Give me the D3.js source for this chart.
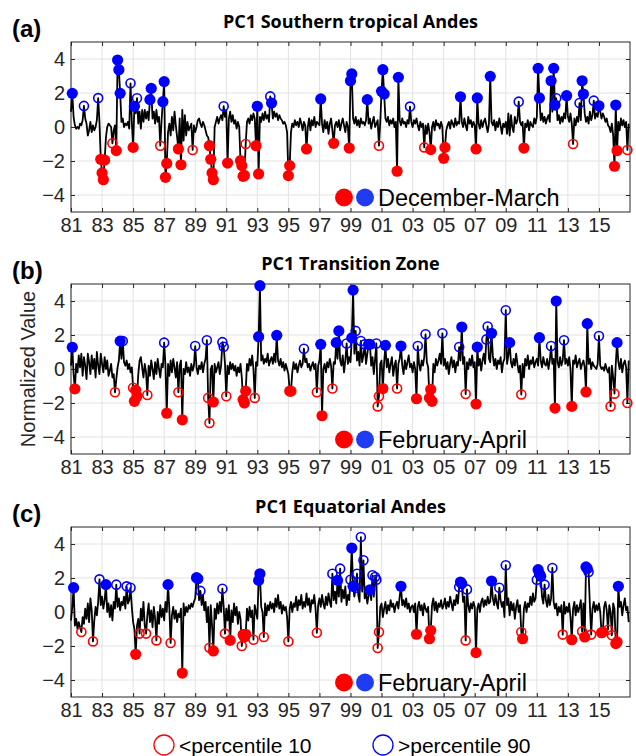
<!DOCTYPE html>
<html>
<head>
<meta charset="utf-8">
<script src="https://cdn.jsdelivr.net/npm/d3@7"></script>
<style>
  body { margin: 0; background: #fff; }
  svg { display: block; }
</style>
</head>
<body>
<svg id="chart" width="636" height="756"></svg>
<script>
// ---- data (monthly, Jan 1981 .. Dec 2016) ----
const firstYear = 1981;
const lastYear = 2017;
const yearTicks = [1981, 1983, 1985, 1987, 1989, 1991, 1993, 1995, 1997, 1999, 2001, 2003, 2005, 2007, 2009, 2011, 2013, 2015];
const yearLabels = ['81', '83', '85', '87', '89', '91', '93', '95', '97', '99', '01', '03', '05', '07', '09', '11', '13', '15'];
const valueTicks = [-4, -2, 0, 2, 4];

const panelTags = ['(a)', '(b)', '(c)'];
const panelTitles = ['PC1 Southern tropical Andes', 'PC1 Transition Zone', 'PC1 Equatorial Andes'];
const seasonNames = ['December-March', 'February-April', 'February-April'];
const seasonMonths = [[12, 1, 2, 3], [2, 3, 4], [2, 3, 4]];
const legendLabels = ['<percentile 10', '>percentile 90'];

const pcSouth = [
  0.9, 1.98, 0.6, 0.1, -0.1, 0.0, -0.1, 0.2, 0.1, 0.4, 1.24, 0.5,
  0.2, -0.5, -0.2, 0.3, -0.3, 0.1, -0.2, 0.0, 0.4, 1.7, 0.3, -1.9,
  -2.7, -3.1, -1.95, -0.6, 0.0, 0.2, 0.1, 0.0, -0.96, -0.2, 0.1, -1.39,
  3.94, 3.37, 1.98, 0.3, 0.5, 0.0, 0.2, 0.1, 0.3, -0.1, 2.57, 0.3,
  -1.2, 1.22, 0.8, 1.69, 0.2, 0.9, -0.1, 1.0, 0.3, 1.0, 0.5, 0.9,
  0.4, 1.61, 2.27, 0.5, 0.9, 0.2, 1.0, 0.3, 0.6, -1.1, 0.4, 1.49,
  2.67, -2.96, -2.14, -0.3, 0.2, -0.5, 0.6, -0.2, 0.9, 0.1, -0.6, -1.29,
  0.5, -2.22, 1.0, -0.8, 0.7, -0.5, 0.3, -0.2, 0.0, 0.2, -1.35, 0.1,
  -0.3, 0.0, 0.4, 0.5, 0.2, 0.0, 0.3, 0.1, -0.2, -0.5, -0.6, -1.1,
  -1.9, -2.7, -3.1, 0.0, 0.3, 0.6, 0.2, 0.5, 0.7, 0.4, 1.22, 0.6,
  1.0, -2.12, 0.5, 0.9, 0.3, 0.7, 0.2, 0.4, -0.1, 0.3, 0.0, -1.98,
  -2.27, -2.9, -2.85, -1.0, 0.3, 0.5, 0.2, 0.7, 0.4, 0.8, 0.5, -1.1,
  1.22, -2.76, 0.6, 0.3, 0.8, 0.4, 0.9, 0.5, 0.7, 0.3, 1.8, 1.41,
  0.5, 0.9, 0.6, 0.8, 0.4, 0.7, 0.5, 0.4, 0.2, 0.3, 0.1, -0.3,
  -2.86, -2.27, -0.3, 0.2, 0.0, 0.4, 0.1, 0.3, 0.0, 0.5, 0.2, -0.2,
  0.3, 0.1, -1.29, 0.0, 0.5, -0.2, 0.4, 0.1, 0.6, 0.0, 0.3, 0.2,
  0.1, 1.65, 0.2, -0.3, 0.4, -0.1, 0.3, -0.4, 0.2, 0.5, -0.2, -0.96,
  0.1, 0.3, 0.0, 0.4, -0.2, 0.2, 0.5, 0.1, -0.3, 0.3, 0.0, -1.24,
  2.72, 3.12, 0.5, 0.2, 0.6, 0.1, 0.4, 0.0, 0.5, 0.2, 0.3, 0.1,
  0.4, 1.61, 0.2, 0.5, -0.1, 0.3, 0.6, 0.0, 0.2, 0.4, -1.1, 0.3,
  2.1, 3.37, 1.94, 0.5, 0.3, 0.6, 0.1, 0.4, 0.2, 0.5, 0.0, 0.3,
  -2.6, 2.92, 0.4, 0.1, 0.5, 0.2, 0.3, 0.0, 0.4, 0.2, 1.2, 0.3,
  0.0, 0.4, 0.2, 0.5, 0.1, -0.2, 0.3, 0.0, 0.2, -1.2, 0.1, -0.4,
  0.2, -0.3, -1.33, 0.0, 0.3, -0.2, 0.4, 0.1, 0.2, -0.1, 0.3, 0.0,
  -1.84, -1.2, -0.2, 0.1, 0.3, -0.1, 0.4, 0.2, 0.0, 0.5, 0.1, 0.3,
  0.2, 1.78, 0.3, 0.0, 0.5, 0.1, -0.2, 0.6, 0.2, 0.4, 0.0, 0.3,
  0.1, -1.29, 1.71, 0.2, -0.1, 0.4, 0.0, 0.3, 0.5, 0.1, -0.3, 0.2,
  2.98, 0.3, 0.1, 0.4, -0.2, 0.3, 0.0, 0.5, 0.1, -0.4, 0.2, 0.0,
  0.3, -0.4, 0.8, -0.5, 0.7, 0.0, -0.3, 0.6, 0.2, 0.4, 1.49, 0.3,
  0.1, 0.3, -1.24, 0.2, 0.0, 0.4, -0.2, 0.3, 0.1, 0.0, 0.5, 0.2,
  0.6, 3.45, 1.71, 0.4, 0.8, 0.3, 0.6, 0.2, 0.5, 0.7, 0.3, 2.72,
  0.9, 3.45, 1.29, 1.69, 0.4, 0.7, 0.2, 0.6, 0.3, 0.8, 0.5, 1.84,
  0.6, 0.3, 0.8, 0.2, -1.0, 0.5, 0.1, 0.6, 0.3, 1.41, 0.4, 2.72,
  1.94, 0.8, 0.3, 0.6, 0.2, 0.9, 0.4, 0.7, 1.55, 0.5, 0.8, 0.6,
  1.25, 0.9, 0.5, 0.8, 0.6, 0.3, 0.5, 0.1, 0.0, -0.3, 0.2, -0.5,
  -2.31, 1.29, -1.39, 0.3, -0.2, 0.5, 0.1, 0.4, 0.0, 0.3, -1.35, 0.2
];
const pcTransition = [
  0.2, 1.28, -0.3, -1.17, 0.3, -0.2, 0.8, 0.1, 0.9, -0.4, 0.7, 0.2,
  -0.6, 0.9, 0.4, -0.3, 0.8, 0.0, 0.6, -0.5, 1.0, 0.2, -0.3, 0.9,
  0.3, -0.2, 0.7, 0.0, 0.5, -0.4, -0.1, 0.3, -0.5, -0.3, -1.37, -0.6,
  0.1, 0.5, 1.64, 0.6, 1.64, 0.4, 0.2, 0.5, 0.0, 0.3, -0.2, 0.1,
  -1.1, -1.9, -1.25, -1.6, -0.3, 0.5, 0.7, 0.1, -0.5, 0.3, -0.2, -1.53,
  0.2, -0.4, 0.5, 0.0, -0.6, 0.4, -0.3, 0.6, 0.0, -0.5, 0.3, 0.1,
  1.55, 0.2, -2.6, 0.3, -0.4, 0.5, -0.2, 0.6, 0.1, -0.5, 0.4, -1.37,
  0.2, 0.5, -2.99, 0.0, -0.3, 0.4, -0.2, 0.1, -0.4, 0.3, -0.1, 0.2,
  1.35, 0.1, -0.3, 0.2, 0.0, 0.4, -0.2, 0.3, 0.6, 1.69, -1.7, -3.18,
  0.0, 0.2, -1.94, 0.3, -0.2, 0.1, 0.4, -0.3, 0.2, 1.58, 1.31, 0.3,
  -1.6, 0.2, -0.3, 0.4, 0.0, 0.3, -0.1, 0.2, -0.4, 0.1, -0.2, 0.3,
  -0.5, -1.8, -2.0, -1.3, 0.3, -0.1, 0.6, 0.2, 0.8, 0.0, -1.7, 0.4,
  0.2, 1.9, 4.9, 0.5, 0.8, 0.3, 0.6, 0.4, 0.9, 0.2, 0.5, 0.7,
  0.3, 0.9, 0.4, 1.98, 0.5, 0.2, 0.6, 0.1, 0.4, -0.1, 0.3, 0.0,
  -0.3, -1.3, -1.3, -0.2, 0.4, 0.0, 0.3, -0.2, 0.2, 0.5, 0.1, 0.3,
  1.19, 0.4, 0.6, 0.1, 0.3, -0.1, 0.2, 0.4, 0.0, 0.3, -1.37, 0.2,
  0.5, 1.45, -2.75, 0.0, 0.3, -0.2, 0.4, 0.1, 0.6, 0.2, -1.15, 0.4,
  0.3, 1.55, 0.6, 2.24, 0.5, 0.2, 0.8, -0.2, 0.5, 1.5, 0.3, 0.7,
  0.4, 1.83, 4.64, 0.9, 2.24, 0.5, 1.0, 0.2, 1.65, 0.4, 0.8, 1.45,
  0.3, 0.9, 1.45, 1.45, 0.2, 0.7, -0.3, 0.6, 1.5, -2.2, -1.6, 0.3,
  0.5, -1.15, 0.4, 1.39, 0.1, 0.6, -0.2, 0.3, 0.7, -0.4, 0.2, 0.5,
  -1.15, 0.3, 0.6, 1.35, 0.2, -0.3, 0.5, 0.0, 0.4, 0.8, 0.1, 0.3,
  -0.2, 0.4, 0.0, -1.75, 1.35, 0.3, -0.1, 0.5, 0.2, 0.7, 2.04, 0.4,
  0.1, -1.7, -1.2, -1.9, 0.3, -0.2, 0.6, 0.2, 0.5, 0.9, 0.3, 2.1,
  0.2, 0.6, 0.0, 0.4, -0.3, 0.3, 0.7, 0.1, 0.5, -0.2, 0.4, 0.2,
  1.29, 0.5, 2.47, 0.3, 0.7, -1.47, 0.4, 0.0, 0.6, 0.2, 0.8, 0.1,
  0.4, -2.06, 1.29, 0.2, 0.6, -0.1, 0.5, 0.9, 0.3, 1.74, 2.5, 0.6,
  0.4, 2.1, 0.8, 0.2, 0.6, 0.0, 0.5, 0.3, 0.7, -0.2, 0.4, 0.6,
  3.46, 0.3, 0.8, 1.55, 0.4, 0.1, 0.6, 0.2, 0.9, 0.3, -0.2, 0.2,
  -1.5, 0.3, -0.5, 0.6, 0.2, 0.8, 0.0, 0.5, 0.3, 0.7, 0.1, 0.4,
  0.6, 0.2, 1.84, 0.5, 0.1, 0.7, 0.3, 0.2, 0.6, 0.0, 0.5, 1.35,
  0.3, 0.6, -2.3, 4.0, 0.4, 0.1, 0.7, 0.2, 0.5, 1.69, 0.3, 0.6,
  0.2, 0.7, 0.0, -2.2, 0.5, 0.3, 0.8, 0.1, 0.4, 0.6, 0.0, 0.3,
  0.5, 0.1, -1.35, 2.67, 0.3, 0.6, 0.0, 0.4, 0.2, 0.1, 0.0, 0.3,
  1.94, 0.2, 0.0, 0.1, -0.1, 0.3, 0.0, -0.2, 0.1, -2.2, 0.2, -0.5,
  -1.45, 0.3, 1.55, 0.4, 0.0, 0.6, -0.2, 0.3, 0.5, 0.1, -2.0, 0.5
];
const pcEquatorial = [
  -0.5, 0.3, 1.43, -0.8, -0.4, -1.0, -0.6, -0.9, -1.18, -0.3, -0.7, 0.2,
  -0.4, 0.5, -0.6, 0.8, 0.1, -1.73, -0.5, 0.3, -0.2, 0.6, 1.92, 0.4,
  0.9, 0.2, 0.7, 1.61, 0.0, 0.5, -0.3, 0.4, -0.5, 0.6, 0.2, 1.61,
  0.3, 0.8, 0.1, 0.6, 0.4, 0.9, 0.2, 1.51, 0.5, 0.7, 1.43, 0.3,
  -0.6, -1.0, -2.49, -0.8, -0.4, -1.27, 0.2, -0.5, 0.6, -0.8, -1.27, -0.2,
  0.5, -0.6, 0.1, -0.9, 0.3, -0.4, -1.67, 0.0, -0.7, 0.4, -0.3, 0.2,
  -0.5, 0.6, 0.0, 1.61, 0.2, -1.82, -0.2, 0.3, -0.4, 0.1, -0.6, -0.1,
  -0.3, 0.2, -3.59, 0.5, -0.2, 0.3, 0.0, 0.4, 0.2, 0.5, 0.3, 0.6,
  0.8, 2.02, 1.96, 0.7, 1.24, 0.4, 1.0, 0.1, 0.6, -0.6, 0.3, -2.1,
  0.4, -0.8, -2.29, 0.2, -0.4, 0.5, -0.1, 0.6, 0.0, 1.37, 0.3, -1.27,
  0.2, -0.5, 0.4, -1.67, 0.1, -0.6, 0.5, -0.2, 0.3, -0.7, 0.0, -0.4,
  -2.0, -1.33, -1.47, -1.31, 0.2, -0.5, 0.3, -0.3, 0.1, -1.63, 0.4, 0.0,
  -0.4, 1.86, 2.25, 0.3, 0.0, -1.47, 0.5, -0.2, 0.4, 0.1, 0.6, 0.2,
  0.5, 0.0, 0.8, 0.3, 1.0, 0.2, 0.6, -0.1, 0.4, 0.1, 0.3, -0.3,
  -1.73, 0.2, 0.6, 0.0, 0.5, 0.3, 0.9, 0.1, 0.7, 0.4, 1.0, 0.2,
  0.6, 0.3, 1.1, 0.4, 0.8, 0.0, 0.7, 0.5, 1.0, 0.2, -1.22, 0.4,
  0.8, 0.3, 1.0, 0.5, 0.2, 0.9, 0.4, 1.1, 0.6, 0.3, 2.25, 0.7,
  1.2, 0.5, 1.86, 0.9, 2.55, 0.6, 1.3, 0.8, 1.5, 0.4, 1.0, 0.7,
  1.9, 3.76, 1.51, 0.9, 1.43, 2.25, 1.0, 0.6, 4.41, 1.2, 3.04, 0.8,
  1.1, 0.5, 1.0, 1.31, 0.7, 2.16, 0.9, 2.06, 1.9, -2.12, -1.18, 0.3,
  0.5, -0.3, 0.2, 0.6, -0.1, 0.4, 0.1, 0.7, 0.3, 0.5, 0.0, 0.4,
  0.6, 0.2, 0.9, 1.51, 0.4, 0.7, 0.3, 0.8, 0.2, 0.5, 0.0, 0.3,
  0.4, 0.0, 0.5, -1.31, 0.3, 0.6, 0.1, 0.4, -0.2, 0.5, 0.2, 0.0,
  0.3, -1.57, -1.08, 0.4, 0.8, 0.1, 0.6, 0.0, 0.5, 0.3, 0.7, 0.2,
  0.4, 0.8, 0.2, 0.6, 0.3, 0.9, 0.5, 0.1, 0.7, 0.4, 1.0, 0.5,
  1.47, 1.76, 1.67, 0.6, 0.9, -1.67, 1.33, 0.4, 0.0, 0.5, 0.2, 0.6,
  0.3, -2.39, 0.2, 0.5, 0.0, 0.6, 0.8, 0.3, 0.7, 0.4, 0.9, 0.5,
  0.6, 1.82, 0.8, 0.4, 1.0, 0.5, 0.2, 1.43, 0.7, 0.3, 0.6, -0.3,
  2.75, 0.4, 0.8, -0.2, 0.6, 0.1, 0.5, -0.4, 0.3, 0.7, 0.0, 0.4,
  -1.18, -1.57, 0.2, 0.6, 0.0, 0.5, 0.3, 0.9, 0.4, 1.1, 0.6, 0.8,
  1.9, 2.49, 2.25, 2.1, 0.9, 0.5, 1.61, 0.7, 0.3, 1.0, 0.4, 0.8,
  2.59, 0.6, 0.2, 0.5, -0.2, 0.3, 0.0, 0.4, -1.33, 0.6, -0.1, 0.3,
  0.0, 0.5, -0.3, -1.63, 0.2, 0.6, -0.2, 0.4, 0.0, 0.3, 0.7, -1.14,
  0.5, -1.47, 2.65, 2.55, 2.35, 0.4, -1.33, 0.2, 0.6, 0.0, 0.4, 0.1,
  0.5, 0.0, -1.22, -1.18, 0.3, 0.6, 0.1, -1.04, 0.4, 0.0, -1.37, 0.5,
  0.2, -1.86, -1.76, 1.51, 0.3, 0.6, -0.2, 0.4, 0.8, 0.1, 0.3, -0.6
];

// months (index into the series) flagged as below p10 / above p90
const extremesSouth = [1, 10, 21, 23, 24, 25, 26, 32, 35, 36, 37, 38, 46, 48, 49, 51, 61, 62, 69, 71, 72, 73, 74, 83, 85, 94, 107, 108, 109, 110, 118, 121, 131, 132, 133, 134, 135, 143, 144, 145, 154, 155, 168, 169, 182, 193, 203, 215, 216, 217, 229, 238, 240, 241, 242, 252, 253, 262, 273, 278, 288, 289, 301, 313, 314, 324, 346, 350, 361, 362, 371, 373, 374, 375, 383, 388, 393, 395, 396, 404, 408, 420, 421, 422, 430];
const extremesTransition = [1, 3, 34, 38, 40, 48, 49, 50, 51, 59, 72, 74, 83, 86, 96, 105, 106, 107, 110, 117, 118, 120, 133, 134, 135, 142, 145, 146, 159, 169, 170, 180, 190, 193, 194, 202, 205, 207, 213, 217, 218, 220, 224, 227, 230, 231, 236, 237, 238, 241, 243, 252, 255, 267, 268, 274, 277, 278, 279, 287, 300, 302, 305, 313, 314, 321, 322, 325, 336, 339, 348, 362, 371, 374, 375, 381, 387, 398, 399, 408, 417, 420, 422, 430];
const extremesEquatorial = [2, 8, 17, 22, 27, 35, 43, 46, 50, 53, 58, 66, 75, 77, 86, 97, 98, 100, 107, 110, 117, 119, 123, 132, 133, 134, 135, 141, 145, 146, 149, 168, 190, 202, 206, 208, 216, 217, 218, 220, 221, 224, 226, 231, 233, 235, 236, 237, 238, 255, 267, 277, 278, 300, 301, 302, 305, 306, 313, 325, 331, 336, 348, 349, 360, 361, 362, 363, 366, 372, 380, 387, 395, 397, 398, 399, 400, 402, 410, 411, 415, 418, 421, 422, 423];

const allSeries = [pcSouth, pcTransition, pcEquatorial];
const allExtremes = [extremesSouth, extremesTransition, extremesEquatorial];

// ---- layout ----
const svg = d3.select('#chart');
const left = 71;
const plotW = 559;
const plotH = 170;
const panelTops = [42, 284, 527];
const textFont = '"Liberation Sans", Arial, Helvetica, sans-serif';
const axisColor = '#262626';
const red = '#ff0000';
const blue = '#0000ff';

const x = d3.scaleLinear().domain([firstYear, lastYear]).range([0, plotW]);
const y = d3.scaleLinear().domain([-5, 5]).range([plotH, 0]);

function monthTime(i) {
  return firstYear + i / 12;
}

function styleAxis(g) {
  g.select('.domain').remove();
  g.attr('font-family', textFont).attr('font-size', 20).attr('color', axisColor);
  g.selectAll('.tick line').attr('stroke', axisColor);
}

function drawPanel(k) {
  const series = allSeries[k];
  const season = seasonMonths[k];
  const top = panelTops[k];
  const g = svg.append('g').attr('transform', `translate(${left},${top})`);

  // grid
  g.append('g').selectAll('line').data(yearTicks).join('line')
    .attr('x1', d => x(d)).attr('x2', d => x(d))
    .attr('y1', 0).attr('y2', plotH)
    .attr('stroke', '#e2e2e2');
  g.append('g').selectAll('line').data(valueTicks).join('line')
    .attr('x1', 0).attr('x2', plotW)
    .attr('y1', d => y(d)).attr('y2', d => y(d))
    .attr('stroke', '#e2e2e2');

  // axes, ticks pointing inward like matlab
  g.append('g').attr('transform', `translate(0,${plotH})`)
    .call(d3.axisBottom(x).tickValues(yearTicks).tickFormat((d, i) => yearLabels[i])
      .tickSizeInner(-4).tickSizeOuter(0).tickPadding(6))
    .call(styleAxis);
  g.append('g')
    .call(d3.axisTop(x).tickValues(yearTicks).tickFormat('').tickSizeInner(-4).tickSizeOuter(0))
    .call(styleAxis);
  g.append('g')
    .call(d3.axisLeft(y).tickValues(valueTicks).tickSizeInner(-4).tickSizeOuter(0).tickPadding(6))
    .call(styleAxis);
  g.append('g').attr('transform', `translate(${plotW},0)`)
    .call(d3.axisRight(y).tickValues(valueTicks).tickFormat('').tickSizeInner(-4).tickSizeOuter(0))
    .call(styleAxis);

  g.append('rect')
    .attr('width', plotW).attr('height', plotH)
    .attr('fill', 'none').attr('stroke', axisColor).attr('stroke-width', 1);

  // series line
  const line = d3.line()
    .x((d, i) => x(monthTime(i)))
    .y(d => y(d));
  g.append('path')
    .datum(series)
    .attr('d', line)
    .attr('fill', 'none')
    .attr('stroke', '#000')
    .attr('stroke-width', 1.8)
    .attr('stroke-linejoin', 'round');

  // extremes: filled inside the season, open outside it
  const marks = allExtremes[k].map(i => ({
    i: i,
    v: series[i],
    inSeason: season.includes(i % 12 + 1)
  }));
  g.append('g').selectAll('circle').data(marks).join('circle')
    .attr('cx', d => x(monthTime(d.i)))
    .attr('cy', d => y(d.v))
    .attr('r', d => d.inSeason ? 5.6 : 4.5)
    .attr('fill', d => d.inSeason ? (d.v < 0 ? red : blue) : 'none')
    .attr('stroke', d => d.inSeason ? 'none' : (d.v < 0 ? red : blue))
    .attr('stroke-width', 1.6);

  // season legend inside the axes
  const lg = g.append('g').attr('transform', `translate(0,${plotH - 14.5})`);
  lg.append('circle').attr('cx', 273).attr('cy', 0).attr('r', 9).attr('fill', red);
  lg.append('circle').attr('cx', 294).attr('cy', 0).attr('r', 9).attr('fill', '#1f3cf2');
  lg.append('text')
    .attr('x', 307).attr('y', 8)
    .attr('font-family', textFont).attr('font-size', 23.5).attr('fill', '#000')
    .text(seasonNames[k]);

  // title and panel tag
  svg.append('text')
    .attr('x', left + plotW / 2).attr('y', top - 14)
    .attr('text-anchor', 'middle')
    .attr('font-family', '"Open Sans", sans-serif').attr('font-weight', 'bold').attr('font-size', 18)
    .attr('fill', '#000')
    .text(panelTitles[k]);
  svg.append('text')
    .attr('x', 12).attr('y', top - 5)
    .attr('font-family', textFont).attr('font-weight', 'bold').attr('font-size', 24)
    .attr('fill', '#000')
    .text(panelTags[k]);
}

[0, 1, 2].forEach(drawPanel);

// y label shared by the figure
svg.append('text')
  .attr('transform', 'translate(35,369) rotate(-90)')
  .attr('text-anchor', 'middle')
  .attr('font-family', textFont).attr('font-size', 20).attr('fill', axisColor)
  .text('Normalized Value');

// bottom legend for the open markers
const legendX = [164, 383];
const legendColors = [red, blue];
const bottom = svg.append('g').attr('transform', 'translate(0,745)');
legendLabels.forEach((label, i) => {
  bottom.append('circle')
    .attr('cx', legendX[i]).attr('cy', 0).attr('r', 10)
    .attr('fill', 'none').attr('stroke', legendColors[i]).attr('stroke-width', 1.3);
  bottom.append('text')
    .attr('x', legendX[i] + 15).attr('y', 7.5)
    .attr('font-family', textFont).attr('font-size', 21).attr('fill', '#000')
    .text(label);
});
</script>
</body>
</html>
